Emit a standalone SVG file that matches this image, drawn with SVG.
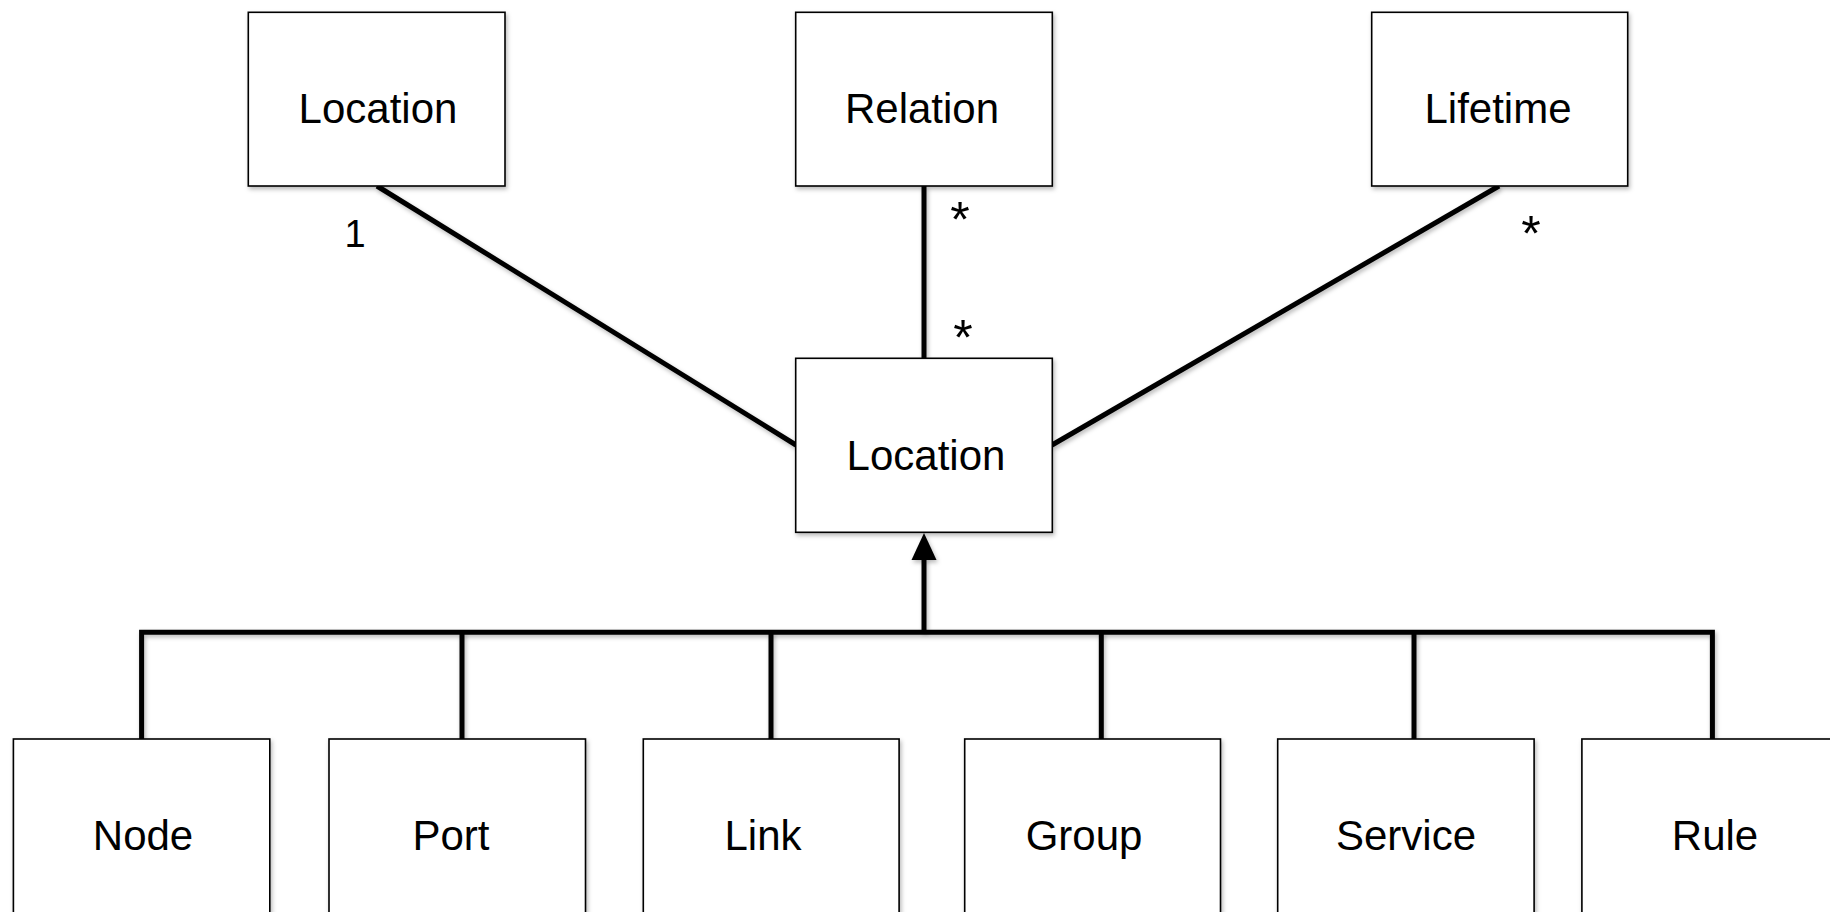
<svg xmlns="http://www.w3.org/2000/svg" width="1830" height="912" viewBox="0 0 1830 912">
<defs>
<filter id="sh" filterUnits="userSpaceOnUse" x="0" y="0" width="1830" height="912">
<feDropShadow dx="1.5" dy="2.5" stdDeviation="2" flood-color="#000" flood-opacity="0.28"/>
</filter>
</defs>
<style>
.box{fill:#fff;stroke:#000;stroke-width:1.6;filter:url(#sh)}
.lbl{font-family:"Liberation Sans",Arial,sans-serif;font-size:42px;fill:#000;text-anchor:middle}
.mult{font-family:"Liberation Sans",Arial,sans-serif;font-size:38px;fill:#000;text-anchor:middle}
.star{font-family:"Liberation Sans",Arial,sans-serif;font-size:50px;fill:#000;text-anchor:middle}
.ln{stroke:#000;stroke-width:5;fill:none;filter:url(#sh)}
</style>
<rect width="1830" height="912" fill="#fff"/>

<g id="connectors">
<line class="ln" x1="377" y1="186" x2="796" y2="445"/>
<line class="ln" x1="924" y1="186" x2="924" y2="358"/>
<line class="ln" x1="1499" y1="186" x2="1052" y2="445"/>
<line class="ln" x1="924" y1="558" x2="924" y2="632"/>
<polygon points="924,533 911.5,560 936.5,560" fill="#000" filter="url(#sh)"/>
<polyline class="ln" points="141.6,739 141.6,632.3 1712.4,632.3 1712.4,739" stroke-linejoin="miter"/>
<line class="ln" x1="462" y1="632" x2="462" y2="739"/>
<line class="ln" x1="771" y1="632" x2="771" y2="739"/>
<line class="ln" x1="1101.3" y1="632" x2="1101.3" y2="741"/>
<line class="ln" x1="1414" y1="632" x2="1414" y2="739"/>
<text class="mult" x="355" y="247">1</text>
<text class="star" x="960" y="237">*</text>
<text class="star" x="963" y="355">*</text>
<text class="star" x="1531" y="251">*</text>
</g>

<g id="location-top">
<rect class="box" x="248.3" y="12.3" width="256.7" height="173.7"/>
<text class="lbl" x="378" y="123">Location</text>
</g>
<g id="relation">
<rect class="box" x="795.7" y="12.3" width="256.6" height="173.7"/>
<text class="lbl" x="922" y="123">Relation</text>
</g>
<g id="lifetime">
<rect class="box" x="1371.7" y="12.3" width="256" height="173.7"/>
<text class="lbl" x="1498" y="123">Lifetime</text>
</g>
<g id="location-main">
<rect class="box" x="795.7" y="358.3" width="256.6" height="174"/>
<text class="lbl" x="926" y="470">Location</text>
</g>

<g id="node">
<rect class="box" x="13.4" y="739" width="256.4" height="176"/>
<text class="lbl" x="143" y="850">Node</text>
</g>
<g id="port">
<rect class="box" x="329" y="739" width="256.5" height="176"/>
<text class="lbl" x="451" y="850">Port</text>
</g>
<g id="link">
<rect class="box" x="643.3" y="739" width="255.8" height="176"/>
<text class="lbl" x="763" y="850">Link</text>
</g>
<g id="group">
<rect class="box" x="964.7" y="739" width="255.8" height="176"/>
<text class="lbl" x="1084" y="850">Group</text>
</g>
<g id="service">
<rect class="box" x="1277.7" y="739" width="256.4" height="176"/>
<text class="lbl" x="1406" y="850">Service</text>
</g>
<g id="rule">
<rect class="box" x="1581.9" y="739" width="256.4" height="176"/>
<text class="lbl" x="1715" y="850">Rule</text>
</g>
</svg>
